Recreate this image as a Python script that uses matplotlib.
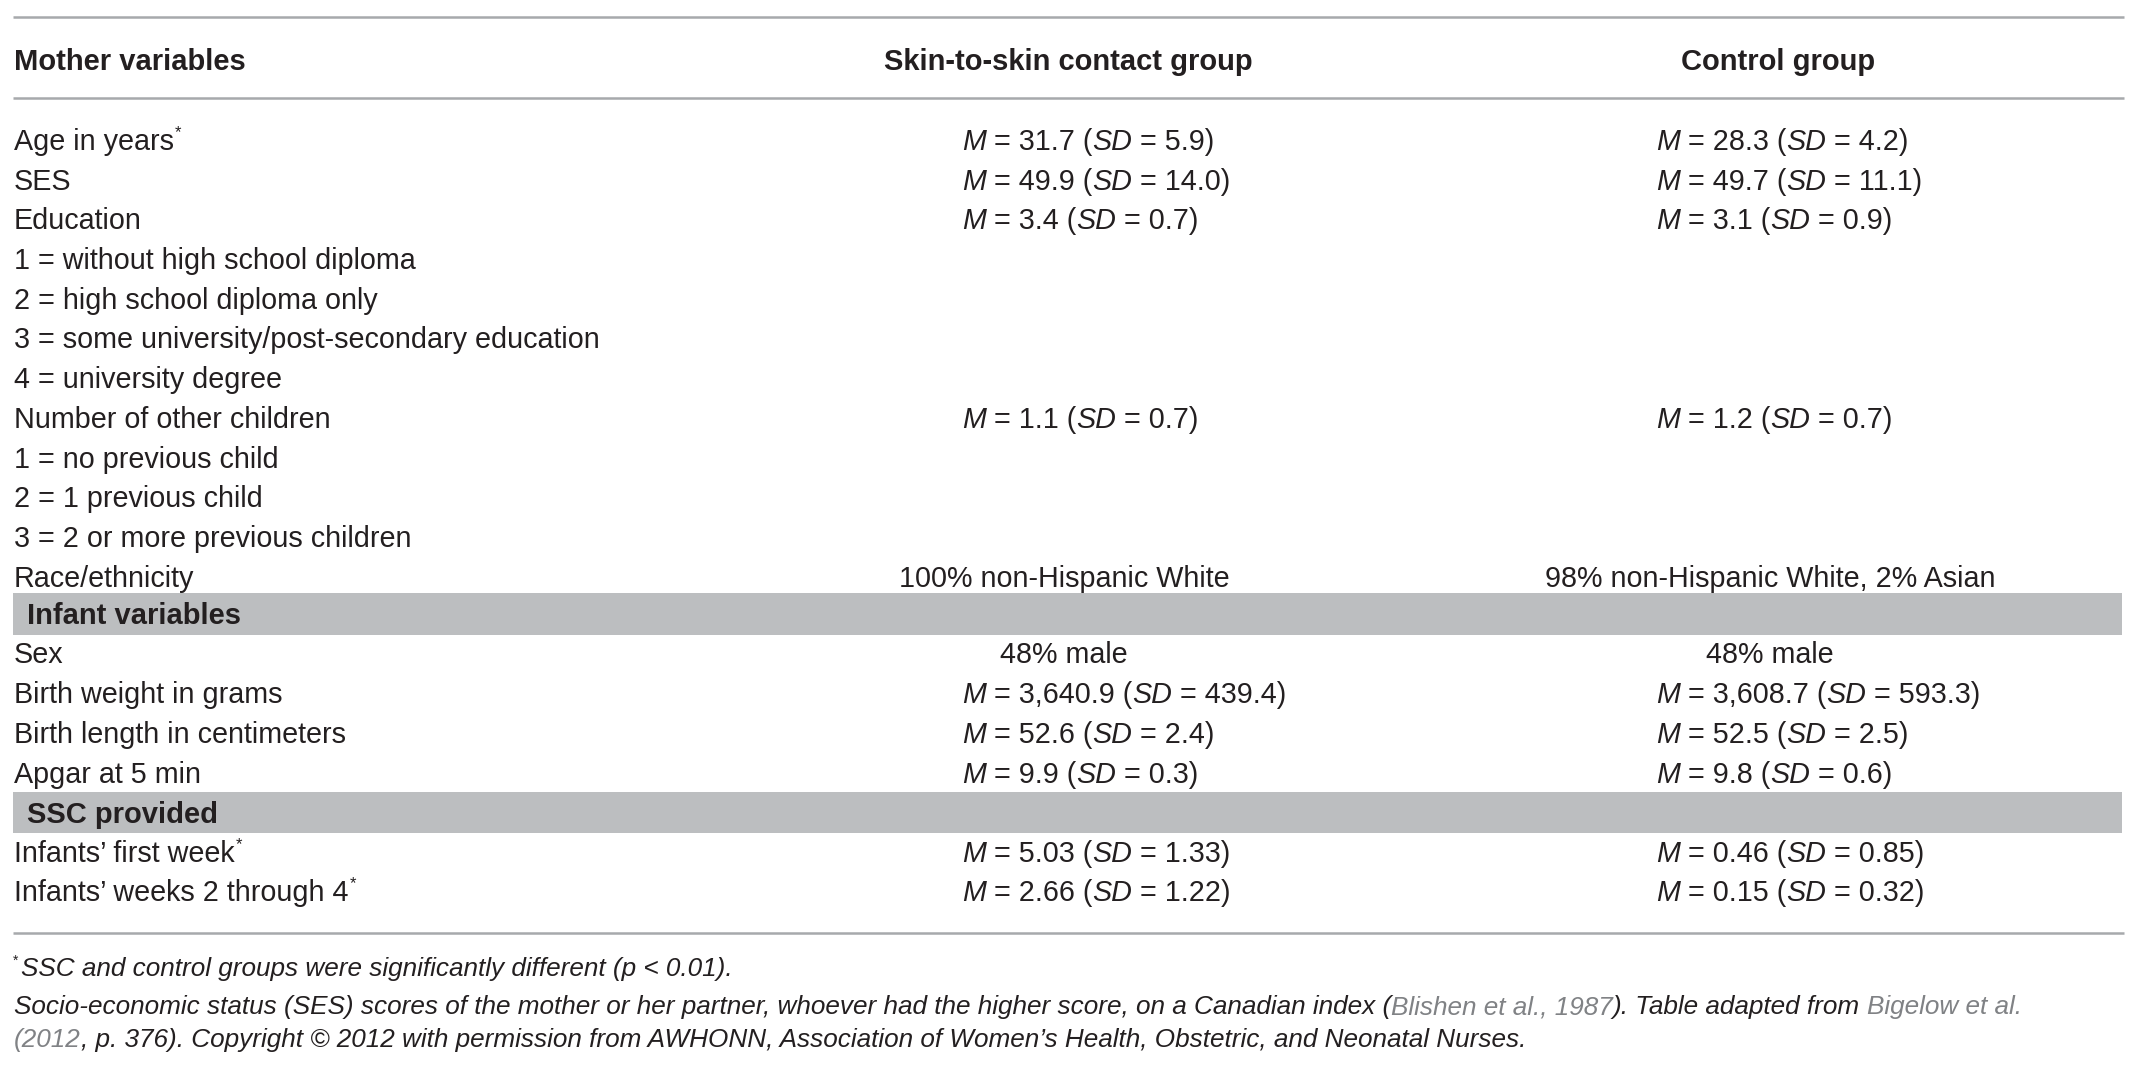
import matplotlib
matplotlib.use("Agg")
import matplotlib.pyplot as plt
from matplotlib.patches import Rectangle
from matplotlib.font_manager import FontProperties

plt.rcParams['font.family'] = ['Liberation Sans', 'DejaVu Sans']

# ---- table content ----
col_headers = ["Mother variables", "Skin-to-skin contact group", "Control group"]

mother_labels = ["Age in years", "SES", "Education",
                 "1 = without high school diploma",
                 "2 = high school diploma only",
                 "3 = some university/post-secondary education",
                 "4 = university degree",
                 "Number of other children",
                 "1 = no previous child",
                 "2 = 1 previous child",
                 "3 = 2 or more previous children",
                 "Race/ethnicity"]
mother_star = [True] + [False] * 11
mother_ssc = [("31.7", "5.9"), ("49.9", "14.0"), ("3.4", "0.7"), None, None, None, None,
              ("1.1", "0.7"), None, None, None, "100% non-Hispanic White"]
mother_ctrl = [("28.3", "4.2"), ("49.7", "11.1"), ("3.1", "0.9"), None, None, None, None,
               ("1.2", "0.7"), None, None, None, "98% non-Hispanic White, 2% Asian"]

infant_title = "Infant variables"
infant_labels = ["Sex", "Birth weight in grams", "Birth length in centimeters", "Apgar at 5 min"]
infant_ssc = ["48% male", ("3,640.9", "439.4"), ("52.6", "2.4"), ("9.9", "0.3")]
infant_ctrl = ["48% male", ("3,608.7", "593.3"), ("52.5", "2.5"), ("9.8", "0.6")]

ssc_title = "SSC provided"
ssc_labels = ["Infants\u2019 first week", "Infants\u2019 weeks 2 through 4"]
ssc_star = [True, True]
ssc_ssc = [("5.03", "1.33"), ("2.66", "1.22")]
ssc_ctrl = [("0.46", "0.85"), ("0.15", "0.32")]

note_sig = "SSC and control groups were significantly different (p < 0.01)."
note_lines = [
    [("Socio-economic status (SES) scores of the mother or her partner, whoever had the higher score, on a Canadian index (", False),
     ("Blishen et al., 1987", True), ("). Table adapted from ", False), ("Bigelow et al.", True)],
    [("(2012", True), (", p. 376). Copyright \u00a9 2012 with permission from AWHONN, Association of Women\u2019s Health, Obstetric, and Neonatal Nurses.", False)],
]

# ---- styling ----
W, H = 2136, 1069
INK = "#231f20"
LINK = "#808285"
RULE = "#a7a9ac"
BAND = "#bcbec0"
FS = 20.7
FS_HEAD = 21
FS_NOTE = 18.8
X0, X1 = 13, 2124
X_LABEL = 14
X_H2, X_H3 = 1068, 1778      # centres of the column headers
X_C2, X_C3 = 1064, 1770      # centres of centred cell values
X_M2, X_M3 = 962, 1656       # left edge of the M = ... values
ROW = 39.7

fig = plt.figure(figsize=(W / 100, H / 100), dpi=100)
ax = fig.add_axes([0, 0, 1, 1])
ax.set_xlim(0, W)
ax.set_ylim(H, 0)
ax.axis("off")
r = fig.canvas.get_renderer()


def adv(s, size, style="normal", weight="normal"):
    # advance width of a string in pixels (keeps spaces at the ends)
    fp = FontProperties(family=plt.rcParams['font.family'], size=size, style=style, weight=weight)
    w1 = r.get_text_width_height_descent("|" + s + "|", fp, ismath=False)[0]
    w0 = r.get_text_width_height_descent("||", fp, ismath=False)[0]
    return w1 - w0


def runs(x, y, parts, size=FS):
    for s, style, color in parts:
        ax.text(x, y, s, fontsize=size, style=style, color=color, va="baseline", ha="left")
        x += adv(s, size, style)
    return x


def star(x, y, size=12, color=INK):
    ax.text(x, y - 13, "*", fontsize=size, color=color, va="baseline", ha="left")


def cell(val, xc, xm, y):
    if val is None:
        return
    if isinstance(val, str):
        ax.text(xc, y, val, fontsize=FS, color=INK, va="baseline", ha="center")
        return
    m, sd = val
    runs(xm, y, [("M", "italic", INK), (" = " + m + " (", "normal", INK),
                 ("SD", "italic", INK), (" = " + sd + ")", "normal", INK)])


def label(text, y, with_star=False, weight="normal", x=X_LABEL, size=FS):
    ax.text(x, y, text, fontsize=size, color=INK, va="baseline", ha="left", weight=weight)
    if with_star:
        star(x + adv(text, size) + 1, y)


# rules
for yy in [17, 98, 933]:
    ax.plot([X0, X1], [yy, yy], color=RULE, lw=1.8, solid_capstyle="butt")

# header
ax.text(X_LABEL, 70, col_headers[0], fontsize=FS_HEAD, weight="bold", color=INK, va="baseline", ha="left")
ax.text(X_H2, 70, col_headers[1], fontsize=FS_HEAD, weight="bold", color=INK, va="baseline", ha="center")
ax.text(X_H3, 70, col_headers[2], fontsize=FS_HEAD, weight="bold", color=INK, va="baseline", ha="center")

# mother block
for i, lab in enumerate(mother_labels):
    y = 150 + ROW * i
    label(lab, y, mother_star[i])
    cell(mother_ssc[i], X_C2, X_M2, y)
    cell(mother_ctrl[i], X_C3, X_M3, y)

# infant block
ax.add_patch(Rectangle((X0, 593), X1 - X0 - 2, 42, color=BAND, lw=0))
label(infant_title, 624, weight="bold", x=27, size=FS_HEAD)
for i, lab in enumerate(infant_labels):
    y = 663 + 40 * i
    label(lab, y)
    cell(infant_ssc[i], X_C2, X_M2, y)
    cell(infant_ctrl[i], X_C3, X_M3, y)

# SSC block
ax.add_patch(Rectangle((X0, 792), X1 - X0 - 2, 41, color=BAND, lw=0))
label(ssc_title, 823, weight="bold", x=27, size=FS_HEAD)
for i, lab in enumerate(ssc_labels):
    y = 862 + 39 * i
    label(lab, y, ssc_star[i])
    cell(ssc_ssc[i], X_C2, X_M2, y)
    cell(ssc_ctrl[i], X_C3, X_M3, y)

# footnotes
star(X_LABEL - 1, 978, size=10)
ax.text(X_LABEL + 7, 976, note_sig, fontsize=FS_NOTE, style="italic", color=INK, va="baseline", ha="left")
for k, line in enumerate(note_lines):
    runs(X_LABEL, 1014 + 33 * k, [(s, "italic", LINK if gray else INK) for s, gray in line], size=FS_NOTE)

fig.savefig("out.png", dpi=100)
